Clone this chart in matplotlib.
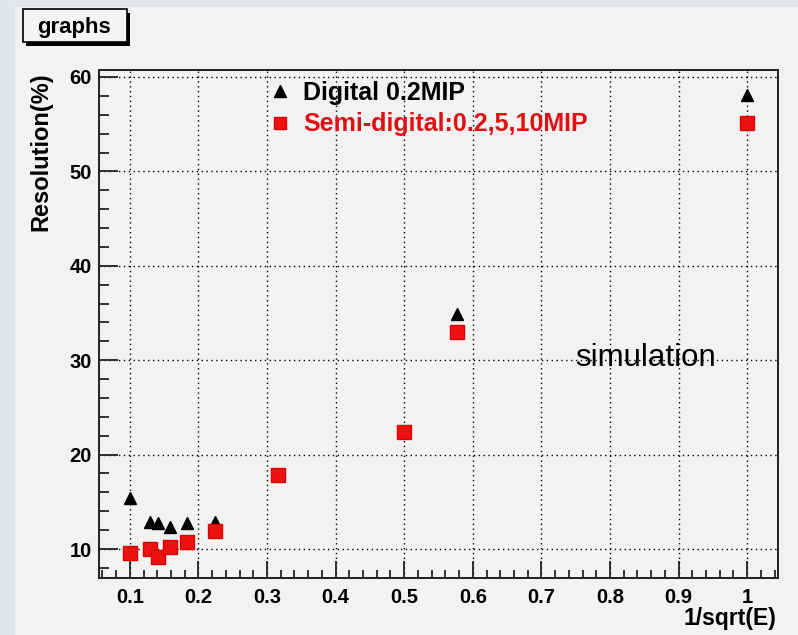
import matplotlib
matplotlib.use('Agg')
import matplotlib.pyplot as plt
from matplotlib.patches import Rectangle
from matplotlib.ticker import MultipleLocator, FuncFormatter
from matplotlib.lines import Line2D

# resolution vs 1/sqrt(E), E = 100, 60, 50, 40, 30, 20, 10, 4, 3, 1 GeV
digital_x = [0.100, 0.129, 0.141, 0.158, 0.183, 0.224, 0.577, 1.000]
digital_y = [15.4, 12.9, 12.8, 12.3, 12.75, 12.9, 34.9, 58.1]

semi_x = [0.100, 0.129, 0.141, 0.158, 0.183, 0.224, 0.316, 0.500, 0.577, 1.000]
semi_y = [9.6, 10.0, 9.2, 10.2, 10.7, 11.9, 17.8, 22.4, 33.0, 55.1]

digital_label = 'Digital 0.2MIP'
semi_label = 'Semi-digital:0.2,5,10MIP'

W, H = 798, 635
plt.rcParams['font.family'] = ['Liberation Sans', 'DejaVu Sans']

fig = plt.figure(figsize=(W / 100, H / 100), dpi=100)
fig.patch.set_facecolor('#dfe6f0')

def px(x0, y0, x1, y1):
    # pixel box -> figure fraction rect
    return (x0 / W, 1 - y1 / H, (x1 - x0) / W, (y1 - y0) / H)

# canvas
cv = px(15, 7, W, H)
fig.patches.append(Rectangle(cv[:2], *cv[2:], transform=fig.transFigure,
                             fc='#f2f2f2', ec='none', zorder=-10))

# title box with drop shadow
sh = px(26, 13, 130, 46)
fig.patches.append(Rectangle(sh[:2], *sh[2:], transform=fig.transFigure,
                             fc='black', ec='none', zorder=1))
bx = px(23, 9, 127, 42)
fig.patches.append(Rectangle(bx[:2], *bx[2:], transform=fig.transFigure,
                             fc='#f4f4f4', ec='black', lw=1.2, zorder=2))
fig.text(74 / W, 1 - 33 / H, 'graphs', ha='center', va='baseline',
         fontsize=16, fontweight='bold', zorder=3)

ax = fig.add_axes(px(99, 70, 778, 578))
ax.set_facecolor('#f2f2f2')

ax.plot(digital_x, digital_y, ls='none', marker='^', ms=9, color='black', zorder=3)
ax.plot(semi_x, semi_y, ls='none', marker='s', ms=9.5, mfc='#ee1111', mec='#dd0000', zorder=4)

ax.set_xlim(0.055, 1.045)
ax.set_ylim(6.93, 60.74)

ax.xaxis.set_major_locator(MultipleLocator(0.1))
ax.xaxis.set_minor_locator(MultipleLocator(0.02))
ax.yaxis.set_major_locator(MultipleLocator(10))
ax.yaxis.set_minor_locator(MultipleLocator(2))
ax.xaxis.set_major_formatter(FuncFormatter(lambda v, p: '%g' % round(v, 2)))

ax.tick_params(which='both', direction='in', top=False, right=False, width=1.3, color='#222222')
ax.tick_params(axis='y', which='major', length=14, pad=5)
ax.tick_params(axis='y', which='minor', length=7)
ax.tick_params(axis='x', which='major', length=12, pad=7)
ax.tick_params(axis='x', which='minor', length=6)
for lab in ax.get_xticklabels() + ax.get_yticklabels():
    lab.set_fontsize(14.5)
    lab.set_fontweight('bold')

ax.grid(True, which='major', color='black', ls=(0, (1, 2.5)), lw=1.0)
for s in ax.spines.values():
    s.set_linewidth(1.4)
    s.set_color('#222222')

ax.set_xlabel('1/sqrt(E)', loc='right', fontsize=16.5, fontweight='bold')
ax.xaxis.set_label_coords(1 - 2 / 679, -(607 - 578) / 508)
ax.set_ylabel('Resolution(%)', loc='top', fontsize=17, fontweight='bold')
ax.yaxis.set_label_coords(-(99 - 52) / 679, 1.0 - 2 / 508)

handles = [Line2D([], [], ls='none', marker='^', ms=8, color='black'),
           Line2D([], [], ls='none', marker='s', ms=8, mfc='#ee1111', mec='#dd0000')]
leg = ax.legend(handles, [digital_label, semi_label], loc='upper left',
                bbox_to_anchor=((267 - 99) / 679, 1 - (81 - 70) / 508),
                frameon=False, handlelength=1.0, handletextpad=0.45,
                labelspacing=0.3, borderpad=0, borderaxespad=0,
                prop={'weight': 'bold', 'size': 18})
leg.get_texts()[0].set_color('black')
leg.get_texts()[1].set_color('#e01010')

ax.text((575 - 99) / 679, 1 - (358 - 70) / 508, 'simulation', fontsize=22.5,
        va='center', ha='left', transform=ax.transAxes)

fig.savefig('out.png', dpi=100, facecolor=fig.get_facecolor())
